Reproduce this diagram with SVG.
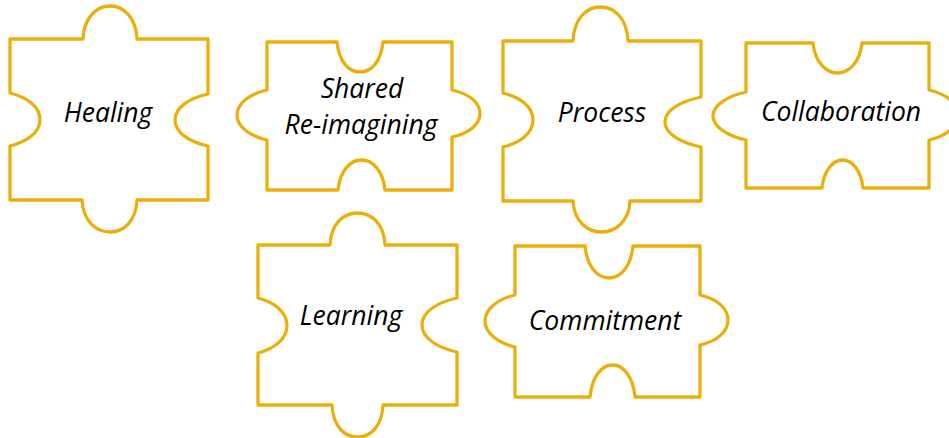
<svg xmlns="http://www.w3.org/2000/svg" width="949" height="438" viewBox="0 0 949 438">
<style>
.pc{fill:#ffffff;stroke:#EBAF0C;stroke-width:3.3;stroke-linejoin:round;stroke-linecap:round}
.t{font-family:"Open Sans","Liberation Sans",sans-serif;font-style:italic;font-size:26.5px;fill:#000;text-anchor:middle}
</style>
<rect width="949" height="438" fill="#ffffff"/>
<g id="healing">
<path class="pc" d="M10,39 H83 C84,18 96,6 110,6 C124,6 136,18 137,39 H208 V94 C190,98 175,107 175,120 C175,133 190,142 208,146 V200 H137 C136,221 124,232 110,232 C96,232 83,221 82,200 H10 V146 C26,142 40,133 40,119.5 C40,106 26,97 10,93 Z"/>
<text class="t" x="108" y="122">Healing</text>
</g>
<g id="shared">
<path class="pc" d="M267,42 H337 C339,61 348,72 360,72 C372,72 381,61 383,42 H452 V90 C470,94 480,103 480,113.5 C480,124 470,133 452,137 V190 H385 C383,171 373,160 361.5,160 C350,160 340,171 338,190 H267 V140 C250,136 237,127 237,115 C237,103 250,94 267,90 Z"/>
<text class="t" x="362" y="98">Shared</text>
<text class="t" x="361" y="134">Re-imagining</text>
</g>
<g id="process">
<path class="pc" d="M503,41 H573 C574,19 586,7 600.5,7 C615,7 627,19 628,41 H701 V97 C683,101 665,109 665,122 C665,135 683,143 701,147 V201 H630 C629,221 616,232 601.5,232 C587,232 574,221 573,201 H503 V147 C519,143 533,134 533,120 C533,106 519,97 503,93 Z"/>
<text class="t" x="602" y="122">Process</text>
</g>
<g id="collaboration">
<path class="pc" d="M746,43 H813 C815,62 826,73 837.5,73 C849,73 860,62 862,43 H929 V90 C947,94 958,104 958,115 C958,126 947,136 929,140 V188 H863 C861,170 852,160 842.5,160 C833,160 824,170 822,188 H746 V140 C728,136 713,127 713,116 C713,105 728,96 746,92 Z"/>
<text class="t" x="841" y="121">Collaboration</text>
</g>
<g id="learning">
<path class="pc" d="M258,245 H330 C331,224 343,213 357.5,213 C372,213 384,224 385,245 H457 V298 C439,302 422,311 422,325 C422,339 439,348 457,352 V405 H383 C382,426 371,437 357.5,437 C344,437 333,426 332,405 H258 V353 C274,349 287,339 287,325.5 C287,312 274,302 258,298 Z"/>
<text class="t" x="351" y="325">Learning</text>
</g>
<g id="commitment">
<path class="pc" d="M515,246 H585 C587,266 597,278 609,278 C621,278 631,266 633,246 H700 V295 C718,299 728,309 728,320 C728,331 718,341 700,345 V397 H635 C633,377 624,365 612.5,365 C601,365 592,377 590,397 H515 V347 C498,343 485,333 485,321 C485,309 498,299 515,295 Z"/>
<text class="t" x="605" y="330">Commitment</text>
</g>
<g id="connectors"/>
</svg>
